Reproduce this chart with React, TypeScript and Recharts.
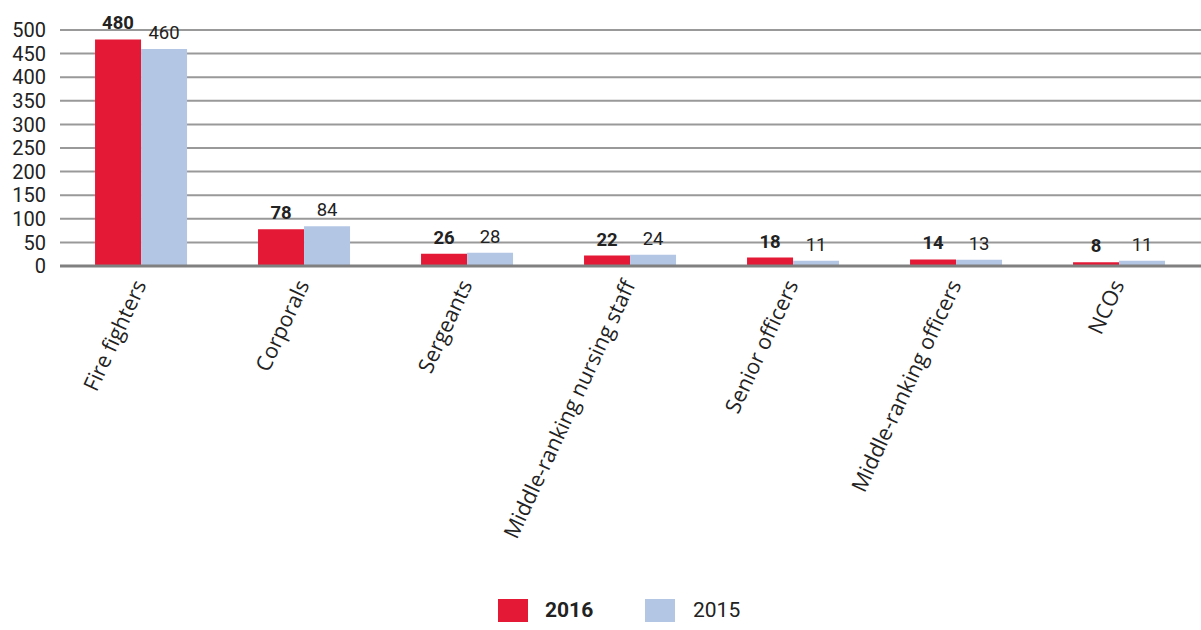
import React from 'react'
import { BarChart, Bar, XAxis, YAxis, CartesianGrid, LabelList, Legend } from 'recharts'

const categories = [
  'Fire fighters',
  'Corporals',
  'Sergeants',
  'Middle-ranking nursing staff',
  'Senior officers',
  'Middle-ranking officers',
  'NCOs',
]
const values2016 = [480, 78, 26, 22, 18, 14, 8]
const values2015 = [460, 84, 28, 24, 11, 13, 11]
const yTicks = [0, 50, 100, 150, 200, 250, 300, 350, 400, 450, 500]

const RED = '#e41936'
const BLUE = '#b3c7e5'
const NUM_FONT = 'Roboto, "DejaVu Sans", sans-serif'
const LABEL_FONT = '"Open Sans", "Noto Sans", sans-serif'

const data = categories.map((name, i) => ({
  name,
  y2016: values2016[i],
  y2015: values2015[i],
}))

const CategoryTick = ({ x, y, payload }: any) => (
  <text
    x={x}
    y={y}
    dy={6}
    textAnchor="end"
    transform={`rotate(-65, ${x}, ${y})`}
    fontFamily={LABEL_FONT}
    fontSize={21.5}
    fill="#222"
  >
    {payload.value}
  </text>
)

const LegendContent = () => (
  <div
    style={{
      display: 'flex',
      alignItems: 'center',
      height: 40,
      paddingLeft: 496,
      fontFamily: NUM_FONT,
      fontSize: 21,
      color: '#222',
    }}
  >
    <span style={{ width: 30, height: 23, background: RED, display: 'inline-block' }} />
    <span style={{ marginLeft: 17, fontWeight: 700, width: 100 }}>2016</span>
    <span style={{ width: 30, height: 23, background: BLUE, display: 'inline-block' }} />
    <span style={{ marginLeft: 18 }}>2015</span>
  </div>
)

export default function App() {
  return (
    <div style={{ position: 'absolute', left: 0, top: 0, background: '#fff' }}>
      <BarChart
        width={1201}
        height={630}
        data={data}
        margin={{ top: 30, right: 0, left: 2, bottom: 0 }}
        barCategoryGap="21.5%"
        barGap={0}
      >
        <CartesianGrid vertical={false} stroke="#999" strokeWidth={2} />
        <YAxis
          width={58}
          domain={[0, 500]}
          ticks={yTicks}
          interval={0}
          axisLine={false}
          tickLine={false}
          tickMargin={8}
          tick={{ fontFamily: NUM_FONT, fontSize: 20, fill: '#222' }}
        />
        <XAxis
          dataKey="name"
          height={324}
          interval={0}
          tickLine={false}
          tickSize={0}
          tickMargin={16}
          axisLine={{ stroke: '#808080', strokeWidth: 3 }}
          tick={<CategoryTick />}
        />
        <Legend verticalAlign="bottom" align="left" height={40} content={<LegendContent />} />
        <Bar dataKey="y2016" fill={RED} isAnimationActive={false}>
          <LabelList
            dataKey="y2016"
            position="top"
            offset={10}
            fill="#222"
            fontFamily={NUM_FONT}
            fontSize={18.5}
            fontWeight={700}
          />
        </Bar>
        <Bar dataKey="y2015" fill={BLUE} isAnimationActive={false}>
          <LabelList
            dataKey="y2015"
            position="top"
            offset={10}
            fill="#222"
            fontFamily={NUM_FONT}
            fontSize={18.5}
          />
        </Bar>
      </BarChart>
    </div>
  )
}
